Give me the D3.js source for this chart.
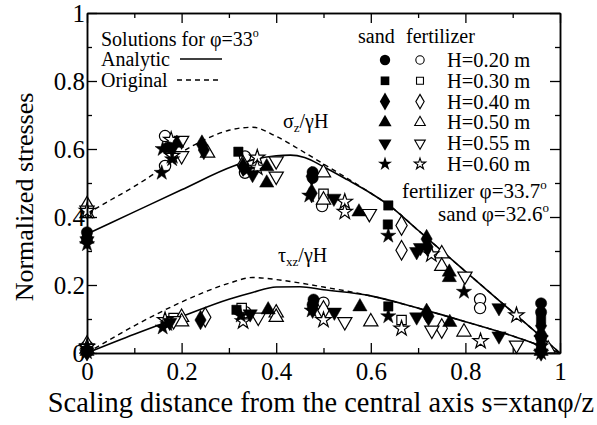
<!DOCTYPE html>
<html>
  <meta charset="utf-8">
  <head>
    <style>
        body { margin: 0; background: #fff; }
        svg { display: block; font-family: "Liberation Serif", "Times New Roman", Times, serif; }
    </style>
    <title>Normalized stresses</title>
    <script src="https://cdn.jsdelivr.net/npm/d3@7"></script>
  </head>
  <body>
    <script>
      // tick labels
      var xTicks = [0, 0.2, 0.4, 0.6, 0.8, 1];
      var yTicks = [0, 0.2, 0.4, 0.6, 0.8, 1];
      var minorTicks = [0.1, 0.3, 0.5, 0.7, 0.9];

      // curves [s, value]
      var analyticSig = [[0,0.35],[0.1,0.415],[0.2,0.48],[0.31,0.55],[0.35,0.568],[0.4,0.58],[0.43,0.582],[0.46,0.575],[0.5,0.548],[0.55,0.51],[0.6,0.47],[0.64,0.433],[0.7,0.361],[0.8,0.24],[0.9,0.12],[1,0]];
      var originalSig = [[0,0.41],[0.05,0.45],[0.1,0.49],[0.15,0.535],[0.2,0.59],[0.25,0.628],[0.3,0.655],[0.35,0.664],[0.4,0.637],[0.45,0.598],[0.5,0.556],[0.55,0.514],[0.6,0.47],[0.64,0.433],[0.7,0.361],[0.8,0.24],[0.9,0.12],[1,0]];
      var analyticTau = [[0,0],[0.1,0.055],[0.2,0.107],[0.3,0.158],[0.35,0.178],[0.4,0.194],[0.45,0.195],[0.5,0.186],[0.6,0.168],[0.7,0.132],[0.8,0.092],[0.9,0.05],[1,0]];
      var originalTau = [[0,0],[0.1,0.08],[0.2,0.15],[0.25,0.18],[0.3,0.205],[0.35,0.222],[0.4,0.216],[0.45,0.206],[0.5,0.194],[0.55,0.182],[0.6,0.168],[0.7,0.132],[0.8,0.092],[0.9,0.05],[1,0]];

      // measured points [s, value]; sand = filled, fertilizer = open
      var sandCircleSig = [[0,0.355],[0.172,0.605],[0.477,0.532],[0.477,0.515],[0.96,0.146],[0.96,0.12]];
      var sandCircleTau = [[0,0.008],[0.479,0.157],[0.477,0.142],[0.96,0.045]];
      var fertCircleSig = [[0,0.42],[0.165,0.638],[0.165,0.55],[0.334,0.578],[0.334,0.53],[0.497,0.432],[0.831,0.158],[0.831,0.132]];
      var fertCircleTau = [[0,0.02],[0.335,0.12],[0.5,0.148]];
      var sandSquareSig = [[0,0.345],[0.32,0.592],[0.637,0.434],[0.636,0.378],[0.96,0.1]];
      var sandSquareTau = [[0,0.005],[0.316,0.127],[0.637,0.137],[0.96,0.02]];
      var fertSquareSig = [[0,0.415],[0.5,0.468]];
      var fertSquareTau = [[0,0.015],[0.183,0.103],[0.327,0.132],[0.665,0.097]];
      var sandDiamondSig = [[0,0.34],[0.243,0.613],[0.247,0.597],[0.33,0.548],[0.475,0.52],[0.475,0.47],[0.718,0.335],[0.72,0.312],[0.96,0.08]];
      var sandDiamondTau = [[0,0.005],[0.24,0.097],[0.477,0.13],[0.718,0.118],[0.722,0.108],[0.96,0.01]];
      var fertDiamondSig = [[0,0.432],[0.33,0.552],[0.665,0.375],[0.665,0.302]];
      var fertDiamondTau = [[0,0.022],[0.25,0.105],[0.5,0.125],[0.75,0.072]];
      var sandTriUpSig = [[0,0.335],[0.19,0.617],[0.38,0.548],[0.38,0.5],[0.575,0.415],[0.766,0.238],[0.766,0.222],[0.96,0.06]];
      var sandTriUpTau = [[0,0.005],[0.383,0.127],[0.577,0.136],[0.767,0.09],[0.96,0.005]];
      var fertTriUpSig = [[0,0.41],[0.255,0.588],[0.5,0.53],[0.5,0.45],[0.75,0.292],[0.75,0.255]];
      var fertTriUpTau = [[0,0.012],[0.2,0.105],[0.2,0.092],[0.4,0.118],[0.4,0.105],[0.6,0.092],[0.797,0.062],[0.975,0.012]];
      var sandTriDownSig = [[0,0.33],[0.18,0.6],[0.35,0.525],[0.522,0.455],[0.697,0.298],[0.705,0.31],[0.871,0.133],[0.96,0.04]];
      var sandTriDownTau = [[0,0.003],[0.175,0.09],[0.345,0.115],[0.523,0.12],[0.697,0.106],[0.871,0.05],[0.96,0.0]];
      var fertTriDownSig = [[0,0.42],[0.2,0.625],[0.2,0.58],[0.4,0.565],[0.4,0.52],[0.597,0.41],[0.799,0.226]];
      var fertTriDownTau = [[0,0.015],[0.183,0.095],[0.362,0.105],[0.545,0.092],[0.729,0.067],[0.908,0.023]];
      var sandStarSig = [[0,0.32],[0.158,0.53],[0.16,0.6],[0.18,0.57],[0.34,0.54],[0.47,0.463],[0.637,0.345],[0.797,0.18],[0.96,0.02]];
      var sandStarTau = [[0,0.002],[0.16,0.075],[0.17,0.085],[0.325,0.11],[0.475,0.125],[0.637,0.108],[0.96,0.0]];
      var fertStarSig = [[0,0.418],[0.178,0.627],[0.18,0.58],[0.36,0.575],[0.36,0.545],[0.545,0.445],[0.545,0.415],[0.728,0.29],[0.908,0.111]];
      var fertStarTau = [[0,0.018],[0.165,0.097],[0.33,0.093],[0.5,0.097],[0.665,0.072],[0.832,0.035]];

      var heights = ["H=0.20 m", "H=0.30 m", "H=0.40 m", "H=0.50 m", "H=0.55 m", "H=0.60 m"];

      var W = 597, H = 425;
      var serif = "'Liberation Serif', 'Times New Roman', Times, serif";
      var x = d3.scaleLinear().domain([0, 1]).range([87, 560]);
      var y = d3.scaleLinear().domain([0, 1]).range([353, 13]);

      var svg = d3.select("body").append("svg").attr("width", W).attr("height", H)
                  .attr("font-family", serif);

      // shapes
      var shapes = [
        {type: d3.symbolCircle, size: 100, rot: 0},
        {type: d3.symbolSquare, size: 88, rot: 0},
        {type: d3.symbolDiamond, size: 110, rot: 0},
        {type: d3.symbolTriangle, size: 88, rot: 0},
        {type: d3.symbolTriangle, size: 88, rot: 180},
        {type: d3.symbolStar, size: 72, rot: 0}
      ];
      var sandSets = [
        [sandCircleSig, sandCircleTau], [sandSquareSig, sandSquareTau], [sandDiamondSig, sandDiamondTau],
        [sandTriUpSig, sandTriUpTau], [sandTriDownSig, sandTriDownTau], [sandStarSig, sandStarTau]];
      var fertSets = [
        [fertCircleSig, fertCircleTau], [fertSquareSig, fertSquareTau], [fertDiamondSig, fertDiamondTau],
        [fertTriUpSig, fertTriUpTau], [fertTriDownSig, fertTriDownTau], [fertStarSig, fertStarTau]];

      // lines
      var line = d3.line().x(function(d) { return x(d[0]); }).y(function(d) { return y(d[1]); })
                   .curve(d3.curveMonotoneX);
      [analyticSig, analyticTau].forEach(function(c) {
        svg.append("path").attr("d", line(c)).attr("fill", "none")
           .attr("stroke", "#000").attr("stroke-width", 1.6);
      });
      [originalSig, originalTau].forEach(function(c) {
        svg.append("path").attr("d", line(c)).attr("fill", "none")
           .attr("stroke", "#000").attr("stroke-width", 1.4).attr("stroke-dasharray", "5,4");
      });

      function drawPoints(pts, shape, filled) {
        svg.append("g").selectAll("path").data(pts).enter().append("path")
           .attr("d", d3.symbol().type(shape.type).size(shape.size))
           .attr("transform", function(d) {
              return "translate(" + x(d[0]) + "," + y(d[1]) + ") rotate(" + shape.rot + ")"; })
           .attr("fill", filled ? "#000" : "#fff")
           .attr("stroke", "#000").attr("stroke-width", filled ? 0.5 : 1.2);
      }
      shapes.forEach(function(s, i) {
        drawPoints(fertSets[i][0], s, false);
        drawPoints(fertSets[i][1], s, false);
      });
      shapes.forEach(function(s, i) {
        drawPoints(sandSets[i][0], s, true);
        drawPoints(sandSets[i][1], s, true);
      });

      // axes, ticks inward
      var fmt = d3.format("");
      svg.append("g").attr("transform", "translate(0,353)")
         .call(d3.axisBottom(x).tickValues(xTicks).tickFormat(fmt).tickSizeInner(-10).tickSizeOuter(0).tickPadding(9));
      svg.append("g").attr("transform", "translate(0,353)")
         .call(d3.axisBottom(x).tickValues(minorTicks).tickFormat("").tickSizeInner(-5).tickSizeOuter(0));
      svg.append("g").attr("transform", "translate(0,13)")
         .call(d3.axisTop(x).tickValues(xTicks).tickFormat("").tickSizeInner(-10).tickSizeOuter(0));
      svg.append("g").attr("transform", "translate(0,13)")
         .call(d3.axisTop(x).tickValues(minorTicks).tickFormat("").tickSizeInner(-5).tickSizeOuter(0));
      svg.append("g").attr("transform", "translate(87,0)")
         .call(d3.axisLeft(y).tickValues(yTicks).tickFormat(fmt).tickSizeInner(-10).tickSizeOuter(0).tickPadding(2));
      svg.append("g").attr("transform", "translate(87,0)")
         .call(d3.axisLeft(y).tickValues(minorTicks).tickFormat("").tickSizeInner(-5).tickSizeOuter(0));
      svg.append("g").attr("transform", "translate(560,0)")
         .call(d3.axisRight(y).tickValues(yTicks).tickFormat("").tickSizeInner(-10).tickSizeOuter(0));
      svg.append("g").attr("transform", "translate(560,0)")
         .call(d3.axisRight(y).tickValues(minorTicks).tickFormat("").tickSizeInner(-5).tickSizeOuter(0));
      svg.selectAll("g").attr("font-family", serif);
      svg.selectAll(".domain").attr("stroke", "#000").attr("stroke-width", 1.5);
      svg.selectAll(".tick line").attr("stroke", "#000").attr("stroke-width", 1.3);
      svg.selectAll(".tick text").attr("font-size", 25).attr("fill", "#000");

      // axis titles
      svg.append("text").attr("x", 321).attr("y", 412).attr("text-anchor", "middle")
         .attr("font-size", 28.4).text("Scaling distance from the central axis s=xtan\u03c6/z");
      svg.append("text").attr("transform", "translate(33,197) rotate(-90)").attr("text-anchor", "middle")
         .attr("font-size", 26).text("Normalized stresses");

      // curve labels
      var sl = svg.append("text").attr("x", 283).attr("y", 128).attr("font-size", 20);
      sl.append("tspan").text("\u03c3");
      sl.append("tspan").attr("font-size", 13).attr("dy", 4).text("z");
      sl.append("tspan").attr("dy", -4).text("/\u03b3H");
      var tl = svg.append("text").attr("x", 278).attr("y", 262).attr("font-size", 20);
      tl.append("tspan").text("\u03c4");
      tl.append("tspan").attr("font-size", 13).attr("dy", 4).text("xz");
      tl.append("tspan").attr("dy", -4).text("/\u03b3H");

      // left legend
      var t1 = svg.append("text").attr("x", 101).attr("y", 46).attr("font-size", 20);
      t1.append("tspan").text("Solutions for \u03c6=33");
      t1.append("tspan").attr("font-size", 12).attr("dy", -9).text("o");
      svg.append("text").attr("x", 101).attr("y", 66).attr("font-size", 20).text("Analytic");
      svg.append("text").attr("x", 101).attr("y", 87).attr("font-size", 20).text("Original");
      svg.append("line").attr("x1", 180).attr("x2", 222).attr("y1", 59).attr("y2", 59)
         .attr("stroke", "#000").attr("stroke-width", 1.6);
      svg.append("line").attr("x1", 177).attr("x2", 222).attr("y1", 80).attr("y2", 80)
         .attr("stroke", "#000").attr("stroke-width", 1.4).attr("stroke-dasharray", "5,4");

      // right legend
      svg.append("text").attr("x", 358).attr("y", 43).attr("font-size", 20).text("sand");
      svg.append("text").attr("x", 406).attr("y", 43).attr("font-size", 20).text("fertilizer");
      var leg = svg.append("g").selectAll("g").data(heights).enter().append("g")
                   .attr("transform", function(d, i) { return "translate(0," + (60 + i * 20.8) + ")"; });
      leg.append("path")
         .attr("d", function(d, i) { return d3.symbol().type(shapes[i].type).size(shapes[i].size * 0.85)(); })
         .attr("transform", function(d, i) { return "translate(385,0) rotate(" + shapes[i].rot + ")"; })
         .attr("fill", "#000");
      leg.append("path")
         .attr("d", function(d, i) { return d3.symbol().type(shapes[i].type).size(shapes[i].size * 0.55)(); })
         .attr("transform", function(d, i) { return "translate(420,0) rotate(" + shapes[i].rot + ")"; })
         .attr("fill", "#fff").attr("stroke", "#000").attr("stroke-width", 1.1);
      leg.append("text").attr("x", 447).attr("y", 7).attr("font-size", 20.5).text(function(d) { return d; });

      var f1 = svg.append("text").attr("x", 402).attr("y", 198).attr("font-size", 21);
      f1.append("tspan").text("fertilizer \u03c6=33.7");
      f1.append("tspan").attr("font-size", 13).attr("dy", -9).text("o");
      var f2 = svg.append("text").attr("x", 438).attr("y", 221).attr("font-size", 21);
      f2.append("tspan").text("sand \u03c6=32.6");
      f2.append("tspan").attr("font-size", 13).attr("dy", -9).text("o");
    </script>
  </body>
</html>
